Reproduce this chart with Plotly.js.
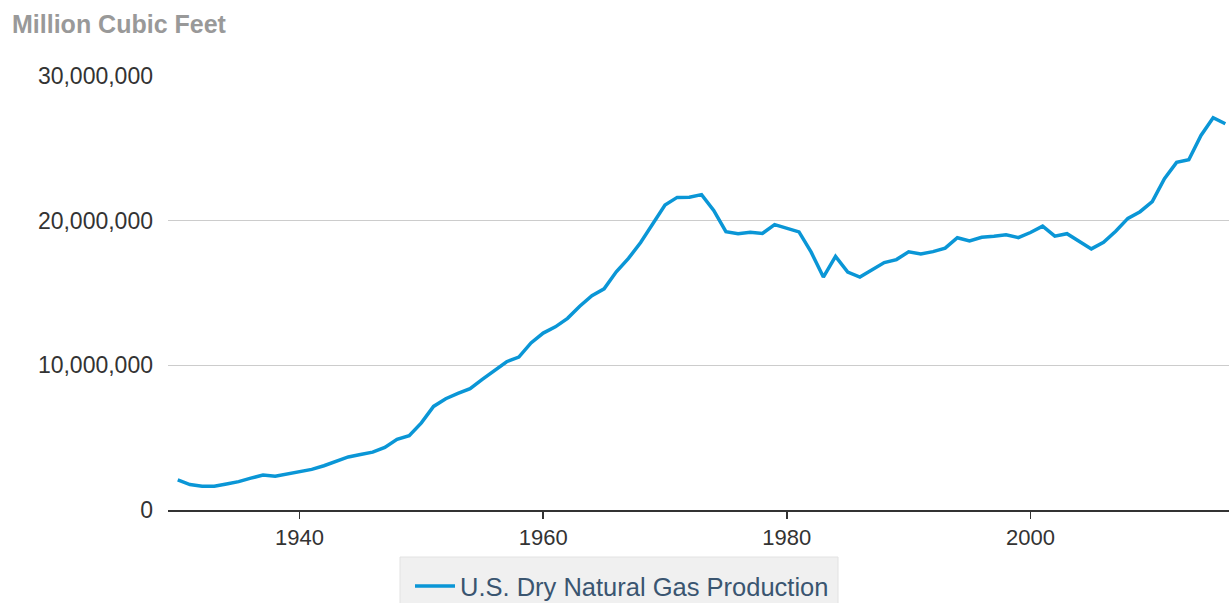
<!DOCTYPE html>
<html>
<head>
<meta charset="utf-8">
<script src="https://cdn.plot.ly/plotly-3.0.1.min.js"></script>
<style>
  html, body { margin: 0; padding: 0; background: #fff; }
  #chart { width: 1229px; height: 603px; }
</style>
</head>
<body>
<div id="chart"></div>
<script>
// Years 1930–2016
const years = [];
for (let y = 1930; y <= 2016; y++) years.push(y);

// U.S. Dry Natural Gas Production, million cubic feet
const production = [
  2080000, 1760000, 1650000, 1640000, 1800000, 1960000, 2200000, 2420000, 2330000, 2500000, // 1930-1939
  2680000, 2810000, 3060000, 3390000, 3670000, 3840000, 4000000, 4330000, 4880000, 5140000, // 1940-1949
  6020000, 7160000, 7690000, 8060000, 8390000, 9030000, 9660000, 10250000, 10570000, 11550000, // 1950-1959
  12230000, 12660000, 13250000, 14080000, 14820000, 15290000, 16470000, 17390000, 18490000, 19830000, // 1960-1969
  21080000, 21610000, 21620000, 21800000, 20710000, 19240000, 19100000, 19200000, 19120000, 19730000, // 1970-1979
  19450000, 19220000, 17820000, 16100000, 17530000, 16450000, 16100000, 16620000, 17100000, 17310000, // 1980-1989
  17850000, 17700000, 17860000, 18100000, 18820000, 18600000, 18850000, 18920000, 19020000, 18830000, // 1990-1999
  19180000, 19620000, 18930000, 19100000, 18590000, 18050000, 18500000, 19270000, 20160000, 20620000, // 2000-2009
  21320000, 22900000, 24030000, 24210000, 25890000, 27120000, 26700000                                // 2010-2016
];

const seriesName = 'U.S. Dry Natural Gas Production';
const yAxisTitle = 'Million Cubic Feet';
const xTickVals = [1940, 1960, 1980, 2000];
const yTickVals = [0, 10000000, 20000000, 30000000];

// plot area in pixels: x 168..1229, y 76..510
const px2x = p => (p - 168) / 1061;
const px2y = p => (510 - p) / 434;

const trace = {
  x: years,
  y: production,
  type: 'scatter',
  mode: 'lines',
  name: seriesName,
  line: { color: '#0a96d6', width: 3.5 },
  showlegend: true
};

const layout = {
  width: 1229,
  height: 603,
  margin: { l: 168, r: 0, t: 76, b: 93, autoexpand: false },
  paper_bgcolor: '#ffffff',
  plot_bgcolor: '#ffffff',
  font: { family: '"Liberation Sans", Arial, sans-serif', color: '#333333', size: 22 },
  xaxis: {
    range: [1929.2, 2016.3],
    tickvals: xTickVals,
    ticktext: xTickVals.map(String),
    showgrid: false,
    zeroline: false,
    showline: true,
    linecolor: '#333333',
    linewidth: 2,
    ticks: 'outside',
    ticklen: 7,
    tickwidth: 1.5,
    tickcolor: '#333333',
    tickfont: { size: 22, color: '#333333' }
  },
  yaxis: {
    range: [0, 30000000],
    tickvals: yTickVals,
    tickformat: ',d',
    showgrid: true,
    gridcolor: '#cccccc',
    gridwidth: 1.5,
    zeroline: false,
    showline: false,
    ticks: '',
    ticklabelstandoff: 14,
    tickfont: { size: 23, color: '#333333' }
  },
  showlegend: true,
  legend: {
    orientation: 'h',
    x: px2x(410),
    xanchor: 'left',
    y: px2y(563),
    yanchor: 'top',
    bgcolor: 'rgba(0,0,0,0)',
    borderwidth: 0,
    itemwidth: 40,
    font: { size: 25.5, color: '#3a5570' }
  },
  shapes: [{
    type: 'rect',
    xref: 'paper', yref: 'paper',
    x0: px2x(400), x1: px2x(838),
    y0: px2y(557), y1: px2y(612),
    fillcolor: '#f0f0f0',
    line: { color: '#e2e2e2', width: 1 },
    layer: 'below'
  }],
  annotations: [{
    text: '<b>' + yAxisTitle + '</b>',
    xref: 'paper', yref: 'paper',
    x: px2x(10), y: px2y(24),
    xanchor: 'left', yanchor: 'middle',
    showarrow: false,
    font: { size: 25, color: '#999999' }
  }]
};

Plotly.newPlot('chart', [trace], layout, { displayModeBar: false, staticPlot: true });
</script>
</body>
</html>
